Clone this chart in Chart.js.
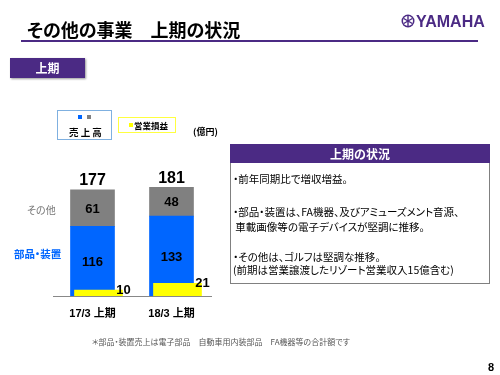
<!DOCTYPE html>
<html>
<head>
<meta charset="utf-8">
<script src="https://cdn.jsdelivr.net/npm/chart.js@4/dist/chart.umd.min.js"></script>
<style>
body{margin:0;width:500px;height:375px;position:relative;background:#fff;overflow:hidden;
  font-family:"Noto Sans CJK JP",sans-serif;font-feature-settings:"palt";}
.a{position:absolute;white-space:nowrap;line-height:1;}
.b{font-weight:bold;}
#mycanvas{position:absolute;left:0;top:0;}
</style>
</head>
<body>
<canvas id="mycanvas" width="500" height="375"></canvas>

<!-- header -->
<div class="a b" style="left:27px;top:20px;font-size:18px;">その他の事業　上期の状況</div>
<div class="a" style="left:21px;top:40px;width:457px;height:2px;background:#4b2a84;"></div>
<svg class="a" style="left:401px;top:14px;" width="14" height="14" viewBox="0 0 14 14">
  <circle cx="7" cy="7" r="6.5" fill="#4b2a84"/>
  <circle cx="7" cy="7" r="5" fill="#fff"/>
  <g stroke="#4b2a84" stroke-width="1.4">
    <line x1="7" y1="2" x2="7" y2="12"/>
    <line x1="2.7" y1="4.5" x2="11.3" y2="9.5"/>
    <line x1="2.7" y1="9.5" x2="11.3" y2="4.5"/>
  </g>
</svg>
<div class="a b" style="left:416px;top:14px;font-size:16px;color:#4b2a84;font-family:'Liberation Sans',sans-serif;">YAMAHA</div>

<div class="a b" style="left:10px;top:58px;width:75px;height:20px;background:#4b2a84;color:#fff;font-size:12px;line-height:20px;text-align:center;box-shadow:1px 1px 2px #999;">上期</div>

<!-- legend boxes -->
<div class="a" style="left:57px;top:110px;width:55px;height:30px;border:1px solid #7fb0e0;box-sizing:border-box;"></div>
<div class="a" style="left:78px;top:115px;width:4px;height:4px;background:#0066ff;"></div>
<div class="a" style="left:87px;top:115px;width:4px;height:4px;background:#808080;"></div>
<div class="a b" style="left:69px;top:128px;font-size:9.5px;">売 上 高</div>
<div class="a" style="left:118px;top:117px;width:58px;height:16px;border:1px solid #ffff40;box-sizing:border-box;"></div>
<div class="a" style="left:129px;top:123px;width:4px;height:4px;background:#ffff00;"></div>
<div class="a b" style="left:134px;top:121px;font-size:8.5px;">営業損益</div>
<div class="a b" style="left:193px;top:127px;font-size:9px;">(億円)</div>

<!-- segment names -->
<div class="a" style="left:27px;top:205px;font-size:10px;color:#777;">その他</div>
<div class="a b" style="left:14px;top:249px;font-size:10.5px;color:#0066ff;">部品・装置</div>

<!-- comment box -->
<div class="a" style="left:230px;top:144px;width:260px;height:140px;border:1px solid #808080;box-sizing:border-box;"></div>
<div class="a b" style="left:230px;top:144px;width:260px;height:19px;background:#4b2a84;color:#fff;font-size:12px;line-height:19px;text-align:center;">上期の状況</div>
<div class="a" style="left:233px;top:174px;font-size:10.5px;">・前年同期比で増収増益。</div>
<div class="a" style="left:233px;top:207px;font-size:10.5px;">・部品・装置は、FA機器、及びアミューズメント音源、</div>
<div class="a" style="left:233px;top:222px;font-size:10.5px;">&nbsp;車載画像等の電子デバイスが堅調に推移。</div>
<div class="a" style="left:233px;top:252px;font-size:10.5px;">・その他は、ゴルフは堅調な推移。</div>
<div class="a" style="left:233px;top:265px;font-size:10.5px;">(前期は営業譲渡したリゾート営業収入15億含む)</div>

<div class="a" style="left:92px;top:338px;font-size:8px;color:#555;">＊部品・装置売上は電子部品　自動車用内装部品　FA機器等の合計額です</div>
<div class="a b" style="left:488px;top:362px;font-size:11px;font-family:'Liberation Sans',sans-serif;">8</div>

<script>
var periods = ['17/3 上期', '18/3 上期'];
var partsSales = [116, 133];   // 部品・装置
var otherSales = [61, 48];     // その他
var opIncome = [10, 21];       // 営業損益

var numFont = '"Liberation Sans", Arial, sans-serif';
var incomeShift = 6;   // yellow bars sit a bit right of the sales bars

var labelPlugin = {
  id: 'labels',
  beforeDatasetDraw: function(chart, args) {
    if (args.index === 2) {
      chart.ctx.save();
      chart.ctx.translate(incomeShift, 0);
    }
  },
  afterDatasetDraw: function(chart, args) {
    if (args.index === 2) chart.ctx.restore();
  },
  afterDatasetsDraw: function(chart) {
    var ctx = chart.ctx;
    var blue = chart.getDatasetMeta(0);
    var gray = chart.getDatasetMeta(1);
    var yel = chart.getDatasetMeta(2);

    ctx.save();
    ctx.fillStyle = '#000';
    ctx.textAlign = 'center';
    ctx.textBaseline = 'middle';
    ctx.font = 'bold 13px ' + numFont;
    for (var i = 0; i < periods.length; i++) {
      var b = blue.data[i], g = gray.data[i], y = yel.data[i];
      ctx.fillText(partsSales[i], b.x, (b.y + b.base) / 2 + 1);
      ctx.fillText(otherSales[i], g.x, (g.y + g.base) / 2 + 1);
      ctx.fillText(opIncome[i], y.x + incomeShift + y.width / 2 + 1, y.y);
    }
    ctx.font = 'bold 16px ' + numFont;
    for (var j = 0; j < periods.length; j++) {
      var top = gray.data[j];
      ctx.fillText(partsSales[j] + otherSales[j], top.x, top.y - 9);
    }
    ctx.restore();
  }
};

var ctx = document.getElementById('mycanvas');

var chart = new Chart(ctx, {
  type: 'bar',
  data: {
    labels: periods,
    datasets: [
      {
        label: '部品・装置',
        data: partsSales,
        backgroundColor: '#0066ff',
        stack: 'sales',
        grouped: false,
        barThickness: 44
      },
      {
        label: 'その他',
        data: otherSales,
        backgroundColor: '#808080',
        stack: 'sales',
        grouped: false,
        barThickness: 44
      },
      {
        label: '営業損益',
        data: opIncome,
        backgroundColor: '#ffff00',
        stack: 'income',
        grouped: false,
        order: -1,
        barThickness: 48
      }
    ]
  },
  options: {
    responsive: false,
    animation: false,
    devicePixelRatio: 1,
    layout: { padding: { left: 53, right: 289, top: 146, bottom: 39 } },
    plugins: {
      legend: { display: false },
      tooltip: { enabled: false }
    },
    scales: {
      x: {
        stacked: false,
        grid: { display: false },
        border: { color: '#888', width: 1 },
        ticks: {
          padding: 3,
          color: '#000',
          font: { family: '"Liberation Sans", "Noto Sans CJK JP", sans-serif', size: 11, weight: 'bold' }
        },
        afterFit: function(scale) { scale.height = 40; }
      },
      y: {
        stacked: true,
        display: false,
        min: 0,
        max: 250
      }
    }
  },
  plugins: [labelPlugin]
});
</script>
</body>
</html>
